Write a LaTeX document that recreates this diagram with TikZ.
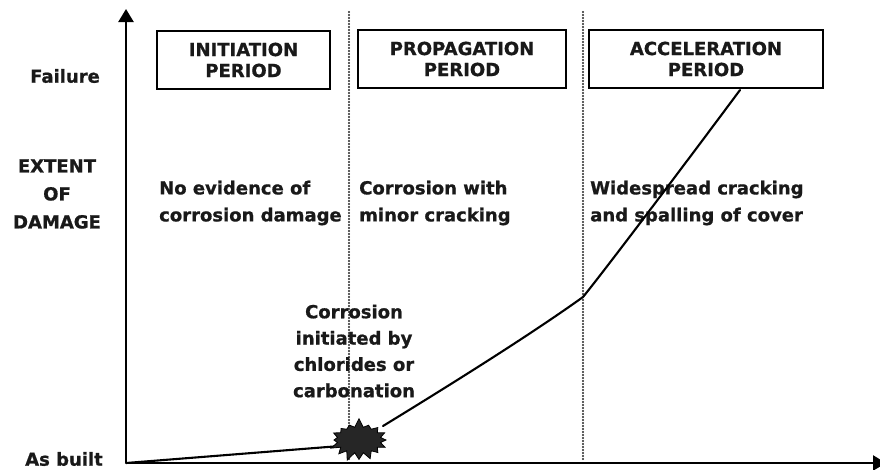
\documentclass[tikz,border=0pt]{standalone}
\usepackage{fontspec}
\setmainfont{DejaVu Sans}
\newfontfamily\heavyfont{DejaVu Sans Bold}[FakeBold=0.9]
\usetikzlibrary{arrows.meta,shapes.symbols}
\tikzset{
  lbl/.style={font=\heavyfont\fontsize{18}{27}\selectfont, inner sep=0pt, text=black!90},
  periodbox/.style={draw, line width=1.8pt, font=\heavyfont\fontsize{18}{21}\selectfont, align=center, inner sep=0pt, minimum height=58pt, text=black!90},
  divider/.style={line width=2.4pt, line cap=round, dash pattern=on 0pt off 3pt, black!85},
  axisline/.style={line width=2.4pt},
  dmgcurve/.style={line width=2.1pt, line cap=round, line join=round}
}
\begin{document}
\begin{tikzpicture}[x=1pt,y=-1pt]
\useasboundingbox (0,0) rectangle (880,469);
% axes
\coordinate (O) at (126,463);
\coordinate (ytop) at (126,9);
\coordinate (xend) at (886,463);
\draw[axisline, -{Triangle[length=13pt,width=15pt]}] (O) -- (ytop);
\draw[axisline, -{Triangle[length=13pt,width=15pt]}] (O) -- (xend);
% dividers
\coordinate (d1t) at (349,12); \coordinate (d1b) at (349,460);
\coordinate (d2t) at (583,12); \coordinate (d2b) at (583,460);
\draw[divider] (d1t) -- (d1b);
\draw[divider] (d2t) -- (d2b);
% period boxes
\node[periodbox, minimum width=173pt] (box1) at (243.5,60) {INITIATION\\PERIOD};
\node[periodbox, minimum width=208pt] (box2) at (462,59) {PROPAGATION\\PERIOD};
\node[periodbox, minimum width=234pt] (box3) at (706,59) {ACCELERATION\\PERIOD};
% axis labels
\node[lbl] (failure) at (65,76) {Failure};
\node[lbl, align=center, font=\heavyfont\fontsize{18}{28}\selectfont] (extent) at (57,194) {EXTENT\\OF\\DAMAGE};
\node[lbl] (asbuilt) at (64,459) {As built};
% period descriptions
\node[lbl, align=left, anchor=west] (txt1) at (159,203) {No evidence of\\corrosion damage};
\node[lbl, align=left, anchor=west] (txt2) at (359,203) {Corrosion with\\minor cracking};
\node[lbl, align=left, anchor=west] (txt3) at (590,203) {Widespread cracking\\and spalling of cover};
\node[lbl, align=center, font=\heavyfont\fontsize{18}{26.3}\selectfont] (corr) at (354,351) {Corrosion\\initiated by\\chlorides or\\carbonation};
% damage curve
\coordinate (cin) at (340,446);
\coordinate (cout) at (383,426);
\coordinate (kink) at (583,297);
\coordinate (cend) at (740,90);
\draw[dmgcurve] (O) -- (cin);
\draw[dmgcurve] (cout) .. controls (450,385) and (530,335) .. (kink) .. controls (605,270) and (688,160) .. (cend);
\node[starburst, fill=black!85, draw=black, line width=0.8pt, minimum width=62pt, minimum height=44pt, starburst points=16, starburst point height=9pt, random starburst=7, inner sep=0pt] (burst) at (359,440) {};
\end{tikzpicture}
\end{document}
